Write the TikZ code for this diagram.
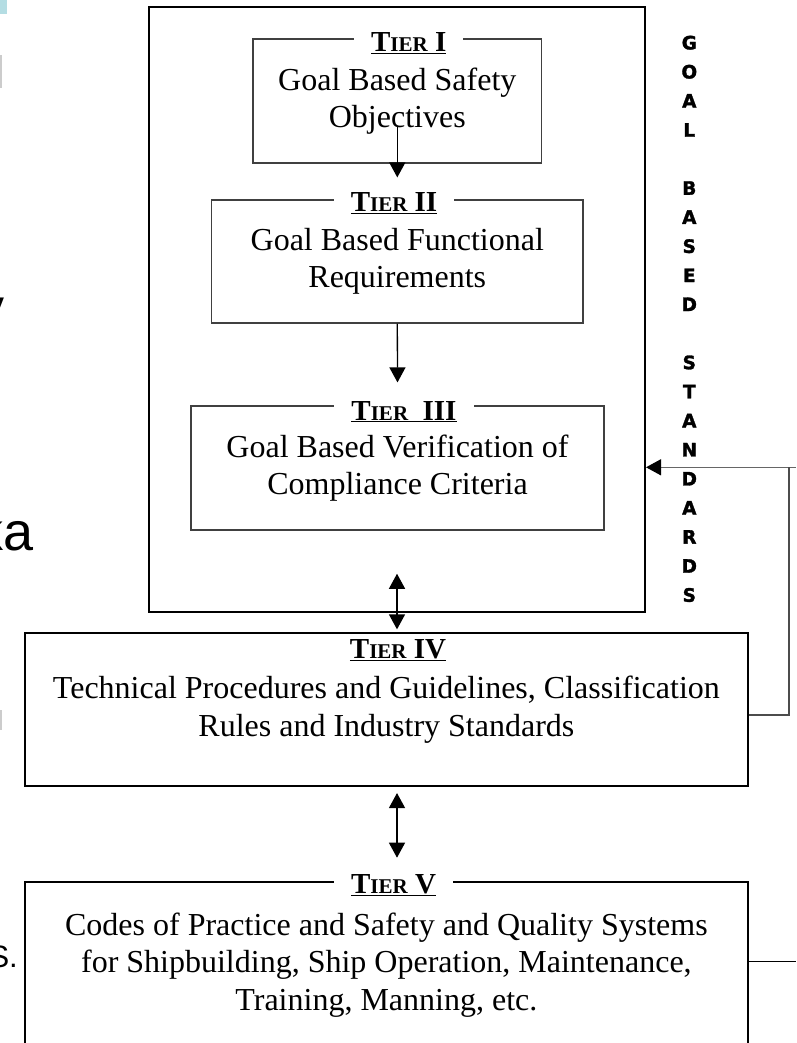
\documentclass[tikz,border=0pt]{standalone}
\usepackage{fontspec}
\setmainfont{Liberation Serif}
\newfontfamily\slidefont{Liberation Sans}
\newfontfamily\heavyfont{DejaVu Sans}[BoldFeatures={FakeBold=1.6}]
\usepackage{xcolor}
\usepackage{tikz}
\usetikzlibrary{arrows.meta}

\definecolor{slidecyan}{HTML}{B4DDE3}
% tier heading: T + faked small caps + numeral, underlined
\newcommand{\tiername}[1]{\underline{\textbf{T{\fontsize{21}{21}\selectfont IER}~#1}}}

\begin{document}
\begin{tikzpicture}[
  x=1pt, y=-1pt,
  tierbox/.style={draw=black!75, line width=1.2pt, align=center, inner sep=0pt,
    font=\fontsize{32}{37.5}\selectfont},
  basebox/.style={tierbox, draw=black, line width=2pt},
  tierlab/.style={fill=white, inner xsep=17pt, inner ysep=5pt, anchor=base,
    font=\fontsize{29}{30}\selectfont},
  gbsletter/.style={inner sep=0pt, font=\heavyfont\bfseries\fontsize{18.5}{19}\selectfont},
  slidetext/.style={inner sep=0pt, anchor=base east, font=\slidefont\fontsize{54}{60}\selectfont},
  link/.style={line width=1.3pt},
  >={Triangle[length=15pt,width=16pt]}
]
\useasboundingbox (0,0) rectangle (796,1043);

% bits of the slide behind
\fill[slidecyan] (0,0) rectangle (7,14);
\fill[black!20] (0,55) rectangle (2,88);
\fill[black!20] (0,710) rectangle (2,730);
\node[slidetext] (sy) at (5,326) {y};
\node[slidetext] (ska) at (34,550) {ka};
\node[slidetext, font=\slidefont\fontsize{31}{34}\selectfont] (ss) at (18,967) {S.};

% goal based standards frame
\node[draw, line width=2pt, minimum width=496pt, minimum height=604.7pt] (gbs) at (397,309.4) {};

\node[tierbox, minimum width=288.7pt, minimum height=124pt] (t1) at (397.3,101)
  {Goal Based Safety\\Objectives};
\node[tierbox, minimum width=371.3pt, minimum height=123pt] (t2) at (397.3,261.5)
  {Goal Based Functional\\Requirements};
\node[tierbox, minimum width=413pt, minimum height=124pt] (t3) at (397.5,468)
  {Goal Based Verification of\\Compliance Criteria};
\node[basebox, minimum width=722.7pt, minimum height=152.7pt] (t4) at (386.4,709.7)
  {Technical Procedures and Guidelines, Classification\\Rules and Industry Standards};
\node[basebox, minimum width=722.7pt, minimum height=166pt] (t5) at (386.4,964.7)
  {Codes of Practice and Safety and Quality Systems\\for Shipbuilding, Ship Operation, Maintenance,\\Training, Manning, etc.};

% headings sit on the top borders
\node[tierlab] (t1lab) at (408.7,52) {\tiername{I}};
\node[tierlab] (t2lab) at (394,211.7) {\tiername{II}};
\node[tierlab] (t3lab) at (404,420) {\tiername{\ III}};
\node[tierlab] (t4lab) at (398,658.3) {\tiername{IV}};
\node[tierlab] (t5lab) at (393.5,893.3) {\tiername{V}};

% side caption
\foreach \ch [count=\i] in {G,O,A,L,{},B,A,S,E,D,{},S,T,A,N,D,A,R,D,S}
  \node[gbsletter] (gbs-\i) at (689.3,{42.7+29.07*(\i-1)}) {\ch};

% flow between the tiers
\draw[link,->] ([yshift=38pt]t1.south) -- ([yshift=22pt]t2.north);
\draw[link,->] (t2.south) -- ([yshift=23pt]t3.north);
\draw[link,<->] ([yshift=39pt]gbs.south) -- ([yshift=3pt]gbs.south |- t4.north);
\draw[link,<->] ([yshift=-6pt]gbs.south |- t4.south) -- ([yshift=23pt]gbs.south |- t5.north);

% feedback on the right
\coordinate (fbtop) at (796,467.3);
\coordinate (fbrail) at (789,467.3);
\coordinate (fbfoot) at (789,715);
\coordinate (fbend) at (796,961.7);
\draw[link,black!60,-{Triangle[length=15pt,width=16pt,black]}] (fbtop) -- (gbs.east |- fbtop);
\draw[link,black!70] (fbrail) -- (fbfoot) -- (t4.east |- fbfoot);
\draw[line width=1pt] (t5.east |- fbend) -- (fbend);
\end{tikzpicture}
\end{document}
